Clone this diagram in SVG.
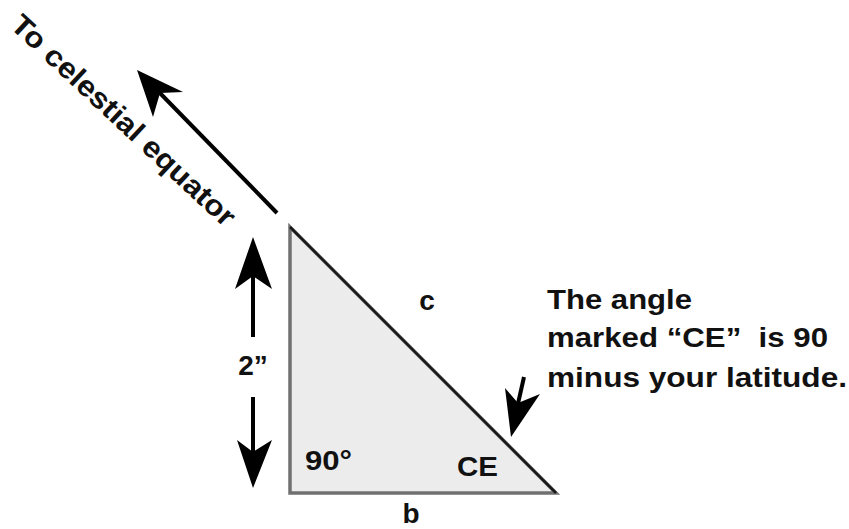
<svg xmlns="http://www.w3.org/2000/svg" width="849" height="529" viewBox="0 0 849 529">
<style>
text{font-family:"Liberation Sans",Arial,sans-serif;font-weight:bold;font-size:28px;fill:#111}
.arr{stroke:#000;stroke-width:4;fill:none}
.head{fill:#000;stroke:none}
</style>
<rect width="849" height="529" fill="#fff"/>
<g id="triangle">
<polygon points="290,227 290,493 556,493" fill="#ececec" stroke="#707070" stroke-width="3.5" stroke-linejoin="miter"/>
<line x1="290" y1="227" x2="556" y2="493" stroke="#1a1a1a" stroke-width="2.5"/>
</g>
<g id="connectors">
<line class="arr" x1="277" y1="213" x2="156" y2="89"/>
<polygon class="head" points="137,70 183,92 160,93 153,117"/>
<line class="arr" x1="253" y1="337" x2="253" y2="272"/>
<polygon class="head" points="253,237 272,289 253,276 235,289"/>
<line class="arr" x1="253" y1="397" x2="253" y2="455"/>
<polygon class="head" points="253,488 237,440 253,452 272,440"/>
<line class="arr" x1="524" y1="377" x2="517" y2="408"/>
<polygon class="head" points="511,437 505,388 518,403 540,394"/>
</g>
<g id="label-equator">
<text transform="translate(9,27) rotate(43)" textLength="295" lengthAdjust="spacingAndGlyphs" style="font-size:29px">To celestial equator</text>
</g>
<g id="label-c"><text x="427" y="310" text-anchor="middle">c</text></g>
<g id="label-2"><text x="253" y="375" text-anchor="middle">2”</text></g>
<g id="label-90"><text x="305" y="470" textLength="47" lengthAdjust="spacingAndGlyphs">90°</text></g>
<g id="label-CE"><text x="457" y="476" textLength="41" lengthAdjust="spacingAndGlyphs">CE</text></g>
<g id="label-b"><text x="411" y="523" text-anchor="middle">b</text></g>
<g id="note">
<text x="547" y="309" textLength="145" lengthAdjust="spacingAndGlyphs">The angle</text>
<text x="547" y="347" textLength="281" lengthAdjust="spacingAndGlyphs" xml:space="preserve" style="white-space:pre">marked “CE”  is 90</text>
<text x="547" y="387" textLength="300" lengthAdjust="spacingAndGlyphs">minus your latitude.</text>
</g>
</svg>
